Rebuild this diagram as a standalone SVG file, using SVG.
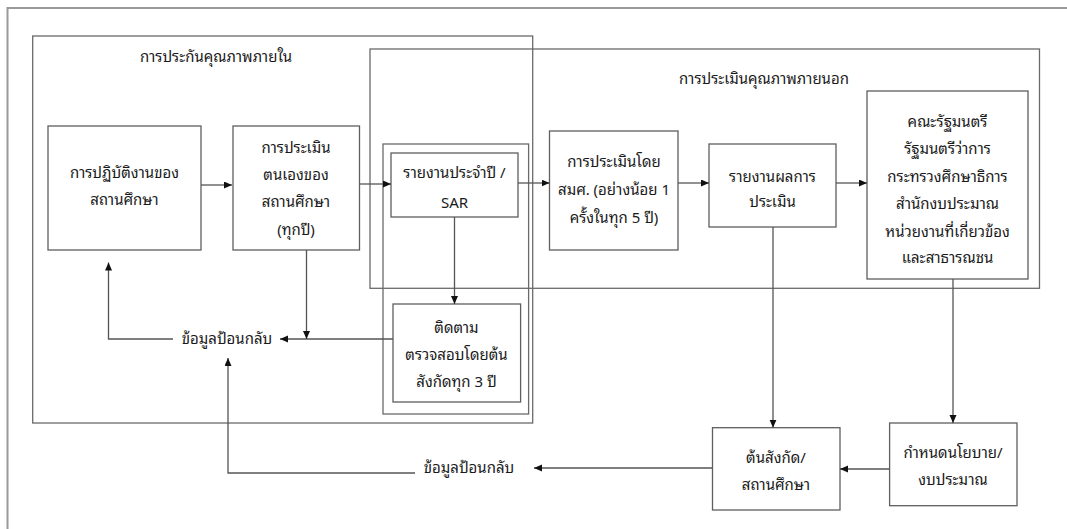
<svg xmlns="http://www.w3.org/2000/svg" width="1067" height="529" viewBox="0 0 1067 529">
  <style>
    .frame { fill: none; stroke: #6a6a6a; stroke-width: 1.3; }
    .outer { fill: none; stroke: #9a9a9a; stroke-width: 2; }
    .box { fill: #ffffff; stroke: #5f5f5f; stroke-width: 1.3; }
    .conn { fill: none; stroke: #555555; stroke-width: 1.3; }
    text { font-family: Tahoma, "Noto Sans Thai Looped", Loma, Garuda, Waree, "Noto Sans Thai", "Noto Sans", sans-serif; font-size: 15px; fill: #1a1a1a; text-anchor: middle; }
  </style>
  <defs>
    <marker id="arr" markerUnits="userSpaceOnUse" markerWidth="9" markerHeight="8" refX="8" refY="3.5" orient="auto">
      <path d="M0,0 L8,3.5 L0,7 z" fill="#111111"/>
    </marker>
  </defs>
  <rect width="1067" height="529" fill="#ffffff"/>

  <!-- page frame -->
  <rect class="outer" x="7.5" y="8" width="1080" height="540"/>

  <!-- internal quality assurance frame -->
  <g id="internal-qa">
    <rect class="frame" x="32.7" y="36" width="500" height="387"/>
    <text x="216" y="62">การประกันคุณภาพภายใน</text>
  </g>

  <!-- external quality assessment frame -->
  <g id="external-qa">
    <rect class="frame" x="370" y="49" width="669.5" height="239.3"/>
    <text x="764" y="84">การประเมินคุณภาพภายนอก</text>
  </g>

  <!-- report / follow-up group -->
  <g id="report-group">
    <rect class="frame" x="383" y="144" width="145.6" height="270"/>
  </g>

  <g id="school-operation">
    <rect class="box" x="48" y="126" width="153" height="124"/>
    <text x="124.5" y="178">การปฏิบัติงานของ</text>
    <text x="124.5" y="205">สถานศึกษา</text>
  </g>

  <g id="self-assessment">
    <rect class="box" x="233" y="126" width="126.5" height="124"/>
    <text x="296" y="153">การประเมิน</text>
    <text x="296" y="180">ตนเองของ</text>
    <text x="296" y="207">สถานศึกษา</text>
    <text x="296" y="235">(ทุกปี)</text>
  </g>

  <g id="sar">
    <rect class="box" x="391" y="153" width="127" height="64"/>
    <text x="454.5" y="178">รายงานประจำปี /</text>
    <text x="454.5" y="208">SAR</text>
  </g>

  <g id="follow-up">
    <rect class="box" x="393" y="304" width="127.6" height="98"/>
    <text x="456.5" y="333">ติดตาม</text>
    <text x="456.5" y="360">ตรวจสอบโดยต้น</text>
    <text x="456.5" y="387">สังกัดทุก 3 ปี</text>
  </g>

  <g id="onesqa-assessment">
    <rect class="box" x="549.5" y="131" width="128.5" height="119"/>
    <text x="614" y="167">การประเมินโดย</text>
    <text x="614" y="195">สมศ. (อย่างน้อย 1</text>
    <text x="614" y="223">ครั้งในทุก 5 ปี)</text>
  </g>

  <g id="assessment-report">
    <rect class="box" x="709" y="144" width="127" height="83"/>
    <text x="772.5" y="182">รายงานผลการ</text>
    <text x="772.5" y="207">ประเมิน</text>
  </g>

  <g id="stakeholders">
    <rect class="box" x="867" y="91" width="161" height="188"/>
    <text x="947.5" y="127">คณะรัฐมนตรี</text>
    <text x="947.5" y="154">รัฐมนตรีว่าการ</text>
    <text x="947.5" y="182">กระทรวงศึกษาธิการ</text>
    <text x="947.5" y="209">สำนักงบประมาณ</text>
    <text x="947.5" y="237">หน่วยงานที่เกี่ยวข้อง</text>
    <text x="947.5" y="263">และสาธารณชน</text>
  </g>

  <g id="agency-school">
    <rect class="box" x="712.5" y="427.7" width="127.5" height="82.3"/>
    <text x="776" y="463">ต้นสังกัด/</text>
    <text x="776" y="490">สถานศึกษา</text>
  </g>

  <g id="policy-budget">
    <rect class="box" x="889.6" y="423" width="127.4" height="82.7"/>
    <text x="953" y="458">กำหนดนโยบาย/</text>
    <text x="953" y="485">งบประมาณ</text>
  </g>

  <g id="feedback-labels">
    <text x="227" y="344">ข้อมูลป้อนกลับ</text>
    <text x="469" y="473">ข้อมูลป้อนกลับ</text>
  </g>

  <g id="connectors">
    <path class="conn" d="M201,185 H232" marker-end="url(#arr)"/>
    <path class="conn" d="M359.5,184 H391" marker-end="url(#arr)"/>
    <path class="conn" d="M518,183 H549.5" marker-end="url(#arr)"/>
    <path class="conn" d="M678,183 H709" marker-end="url(#arr)"/>
    <path class="conn" d="M836,183 H867" marker-end="url(#arr)"/>
    <path class="conn" d="M454.5,217 V304" marker-end="url(#arr)"/>
    <path class="conn" d="M393,339 H280" marker-end="url(#arr)"/>
    <path class="conn" d="M306.5,250 V339" marker-end="url(#arr)"/>
    <path class="conn" d="M173,339 H108.5 V262.5" marker-end="url(#arr)"/>
    <path class="conn" d="M415,473 H228 V358" marker-end="url(#arr)"/>
    <path class="conn" d="M773,227 V427.7" marker-end="url(#arr)"/>
    <path class="conn" d="M953,279 V423" marker-end="url(#arr)"/>
    <path class="conn" d="M889.6,469 H840" marker-end="url(#arr)"/>
    <path class="conn" d="M712.5,468 H534" marker-end="url(#arr)"/>
  </g>
</svg>
